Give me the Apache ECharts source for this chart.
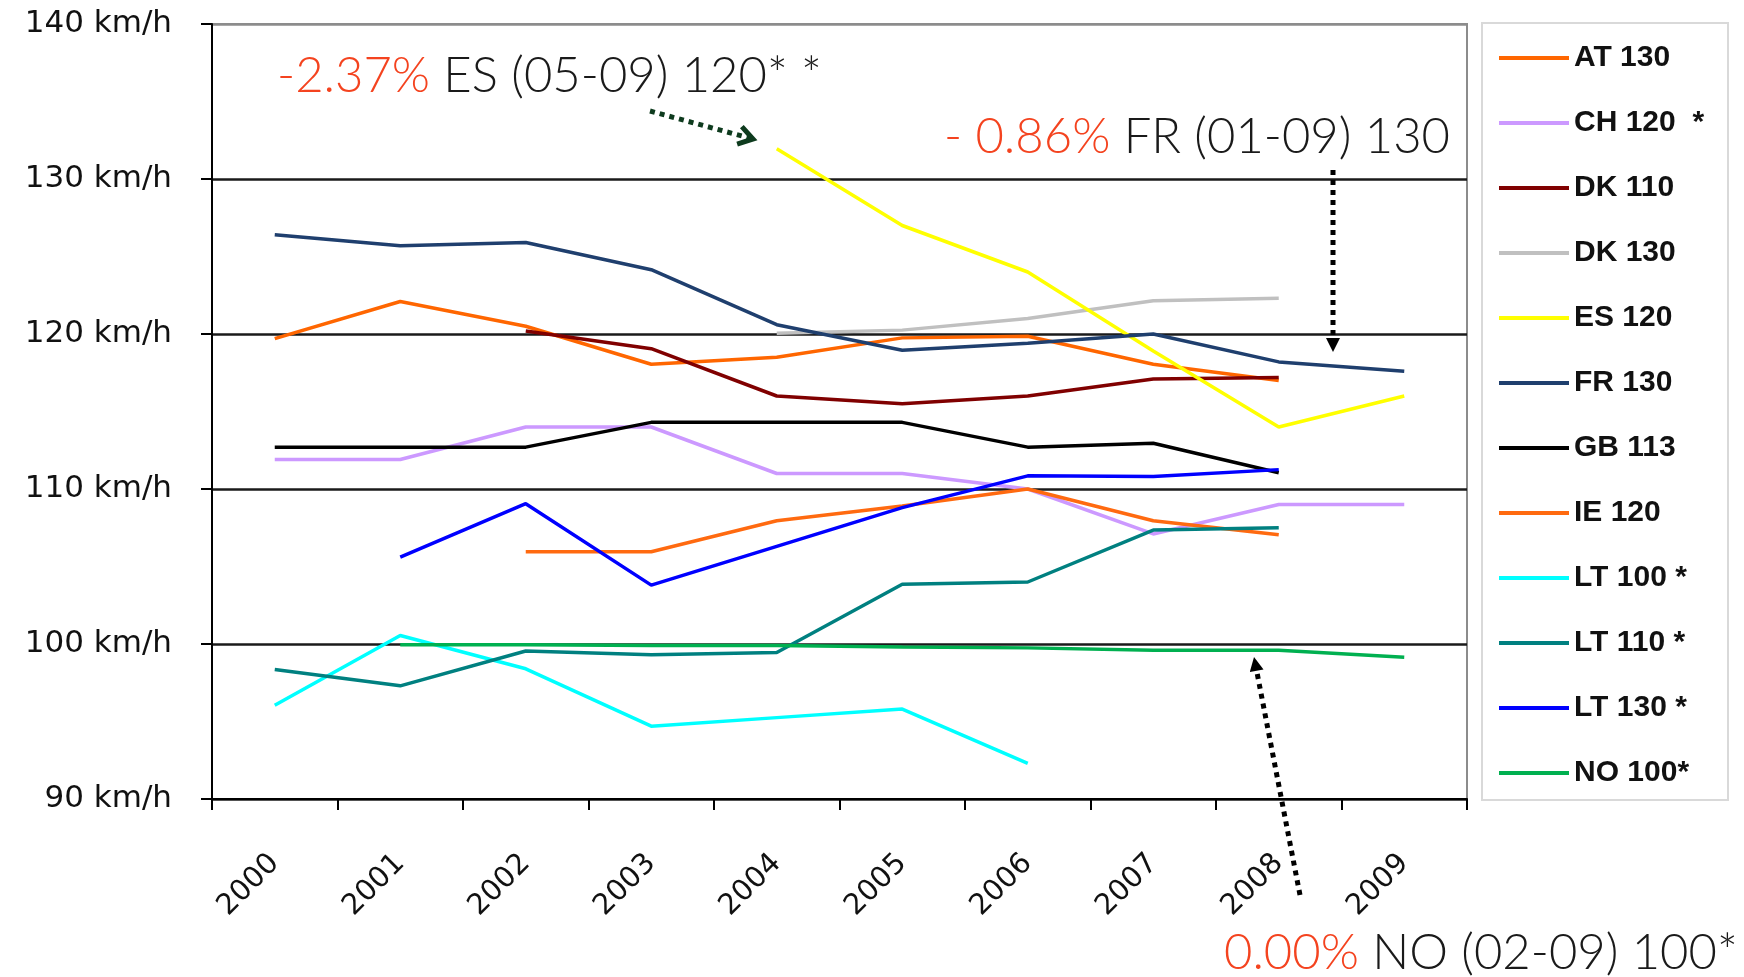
<!DOCTYPE html>
<html>
<head>
<meta charset="utf-8">
<script src="https://cdn.jsdelivr.net/npm/echarts@6/dist/echarts.min.js"></script>
<style>
html,body{margin:0;padding:0;background:#fff;}
#chart{width:1744px;height:977px;}
</style>
</head>
<body>
<div id="chart"></div>
<script>
// ---- data ----
const years = ['2000','2001','2002','2003','2004','2005','2006','2007','2008','2009'];
const yTicks = [90, 100, 110, 120, 130, 140];
const seriesNames = ['AT 130','CH 120  *','DK 110','DK 130','ES 120','FR 130','GB 113','IE 120','LT 100 *','LT 110 *','LT 130 *','NO 100*'];
const AT130 = [119.7, 122.1, 120.5, 118.05, 118.5, 119.75, 119.85, 118.05, 117.0, null];
const CH120 = [111.9, 111.9, 114.0, 114.0, 111.0, 111.0, 110.0, 107.1, 109.0, 109.0];
const DK110 = [null, null, 120.2, 119.05, 116.0, 115.5, 116.0, 117.1, 117.2, null];
const DK130 = [null, null, null, null, 120.05, 120.25, 121.0, 122.15, 122.3, null];
const ES120 = [null, null, null, null, 131.95, 127.0, 124.0, 118.9, 114.0, 116.0];
const FR130 = [126.4, 125.7, 125.9, 124.15, 120.6, 118.95, 119.4, 120.0, 118.2, 117.6];
const GB113 = [112.7, 112.7, 112.7, 114.3, 114.3, 114.3, 112.7, 112.95, 111.05, null];
const IE120 = [null, null, 105.95, 105.95, 107.95, 108.9, 110.0, 107.95, 107.05, null];
const LT100 = [96.05, 100.55, 98.4, 94.7, 95.25, 95.8, 92.3, null, null, null];
const LT110 = [98.35, 97.3, 99.55, 99.3, 99.45, 103.85, 104.0, 107.35, 107.5, null];
const LT130 = [null, 105.6, 109.05, 103.8, 106.3, 108.8, 110.85, 110.8, 111.25, null];
const NO100 = [null, 99.95, 99.95, 99.9, 99.9, 99.8, 99.75, 99.6, 99.6, 99.15];
const annotES = ['-2.37%', 'ES (05-09) 120* *'];
const annotFR = ['- 0.86%', 'FR (01-09) 130'];
const annotNO = ['0.00%', 'NO (02-09) 100*'];

// ---- styles ----
const seriesData = [AT130, CH120, DK110, DK130, ES120, FR130, GB113, IE120, LT100, LT110, LT130, NO100];
const colors = ['#FF6600','#CC99FF','#800000','#C0C0C0','#FFFF00','#1F3F6E','#000000','#FF6A10','#00FFFF','#008080','#0000FF','#00B050'];

const chart = echarts.init(document.getElementById('chart'), null, {renderer: 'canvas'});

function arrowEls(x1, y1, x2, y2, color, open) {
  const ang = Math.atan2(y2 - y1, x2 - x1);
  const L = 14, W = 7;
  const bx = x2 - L * Math.cos(ang), by = y2 - L * Math.sin(ang);
  const px = -Math.sin(ang), py = Math.cos(ang);
  const els = [{
    type: 'line', z: 100,
    shape: {x1: x1, y1: y1, x2: open ? x2 - 4 * Math.cos(ang) : bx, y2: open ? y2 - 4 * Math.sin(ang) : by},
    style: {stroke: color, lineWidth: 5, lineDash: [5, 5]}
  }];
  if (open) {
    els.push({type: 'polyline', z: 100,
      shape: {points: [[bx + px * 9, by + py * 9], [x2, y2], [bx - px * 9, by - py * 9]]},
      style: {stroke: color, lineWidth: 5, fill: null, lineJoin: 'miter'}});
  } else {
    els.push({type: 'polygon', z: 100,
      shape: {points: [[x2, y2], [bx + px * W, by + py * W], [bx - px * W, by - py * W]]},
      style: {fill: color}});
  }
  return els;
}

function annot(x, y, parts) {
  return {
    type: 'text', z: 100, x: x, y: y,
    style: {
      text: '{r|' + parts[0] + '}{k|\u00a0' + parts[1] + '}',
      textVerticalAlign: 'middle',
      rich: {
        r: {fontSize: 49, fontFamily: 'Lato', fontWeight: 300, fill: '#F4431F', color: '#F4431F'},
        k: {fontSize: 49, fontFamily: 'Lato', fontWeight: 300, fill: '#1a1a1a', color: '#1a1a1a'}
      }
    }
  };
}

const option = {
  backgroundColor: '#ffffff',
  animation: false,
  grid: {left: 212, right: 277, top: 24, bottom: 178, show: true, borderColor: '#8c8c8c', borderWidth: 2, containLabel: false},
  legend: {
    data: seriesNames,
    orient: 'vertical',
    left: 1499, top: 43,
    padding: 0,
    icon: 'rect',
    itemWidth: 70, itemHeight: 4, itemGap: 35,
    textStyle: {fontSize: 30, fontWeight: 'bold', fontFamily: 'Liberation Sans', color: '#111', lineHeight: 30}
  },
  xAxis: {
    type: 'category',
    data: years,
    boundaryGap: true,
    axisLine: {lineStyle: {color: '#000', width: 2}},
    axisTick: {show: true, length: 11, alignWithLabel: false, lineStyle: {color: '#000', width: 2}},
    axisLabel: {rotate: 45, margin: 60, fontSize: 29, fontFamily: 'DejaVu Sans', color: '#111'},
    splitLine: {show: false}
  },
  yAxis: {
    type: 'value',
    min: yTicks[0], max: yTicks[yTicks.length - 1], interval: yTicks[1] - yTicks[0],
    axisLine: {show: true, lineStyle: {color: '#000', width: 2}},
    axisTick: {show: true, length: 11, lineStyle: {color: '#000', width: 2}},
    axisLabel: {margin: 40, fontSize: 31, fontFamily: 'DejaVu Sans', color: '#111', formatter: function (v) { return v + ' km/h'; }},
    splitLine: {show: true, lineStyle: {color: ['#1a1a1a','#1a1a1a','#1a1a1a','#1a1a1a','#1a1a1a','#8c8c8c'], width: 2.5}}
  },
  series: seriesNames.map(function (n, i) {
    return {
      name: n, type: 'line', data: seriesData[i],
      symbol: 'none', connectNulls: false, smooth: false,
      lineStyle: {color: colors[i], width: 3.5},
      itemStyle: {color: colors[i]},
      emphasis: {disabled: true}
    };
  }),
  graphic: [
    {type: 'rect', z: 0, shape: {x: 1482, y: 23, width: 246, height: 777}, style: {fill: '#fff', stroke: '#D9D9D9', lineWidth: 2}},
    annot(277, 76, annotES),
    annot(944, 137, annotFR),
    annot(1224, 953, annotNO)
  ].concat(arrowEls(650, 111, 753, 139, '#0E3B1E', true))
   .concat(arrowEls(1333, 170, 1333, 352, '#000', false))
   .concat(arrowEls(1300, 895, 1254, 657, '#000', false))
};
chart.setOption(option);
</script>
</body>
</html>
